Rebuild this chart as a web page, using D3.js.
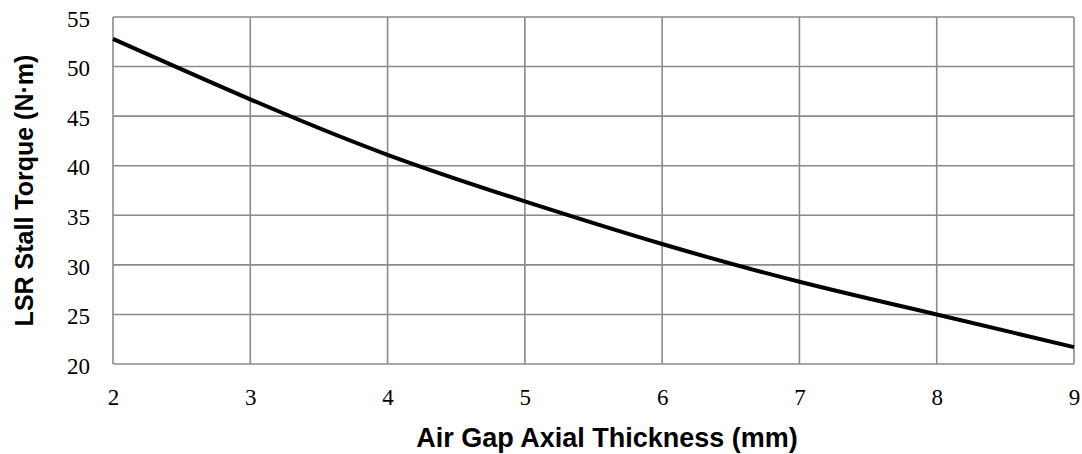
<!DOCTYPE html>
<html>
<head>
<meta charset="utf-8">
<script src="https://cdn.jsdelivr.net/npm/d3@7"></script>
<style>
  body { margin: 0; background: #fff; }
  .tick text { font-family: "Liberation Serif", "Times New Roman", serif; font-size: 23px; fill: #000; }
  .title { font-family: "Liberation Sans", Arial, sans-serif; font-weight: bold; fill: #000; }
</style>
</head>
<body>
<div id="chart"></div>
<script>
'use strict';

// air gap axial thickness (mm)
var gaps = [2, 3, 4, 5, 6, 7, 8, 9];
// stall torque (N·m)
var torque = [52.8, 46.7, 41.1, 36.4, 32.1, 28.3, 25.0, 21.7];
var xTicks = [2, 3, 4, 5, 6, 7, 8, 9];
var yTicks = [20, 25, 30, 35, 40, 45, 50, 55];

var width = 1082, height = 454;
var margin = { top: 17, right: 8, bottom: 90, left: 113 };

var svg = d3.select('#chart').append('svg')
  .attr('width', width)
  .attr('height', height);

var x = d3.scaleLinear().domain([2, 9])
  .range([margin.left, width - margin.right]);
var y = d3.scaleLinear().domain([20, 55])
  .range([height - margin.bottom, margin.top]);

// grid
var grid = svg.append('g').attr('class', 'grid')
  .style('stroke', '#8a8a8a')
  .style('stroke-width', 1.6);

grid.selectAll('line.v').data(xTicks).enter().append('line')
  .attr('x1', function (d) { return x(d); })
  .attr('x2', function (d) { return x(d); })
  .attr('y1', y(20)).attr('y2', y(55));

grid.selectAll('line.h').data(yTicks).enter().append('line')
  .attr('y1', function (d) { return y(d); })
  .attr('y2', function (d) { return y(d); })
  .attr('x1', x(2)).attr('x2', x(9));

// axes (labels only)
var xAxis = svg.append('g')
  .attr('transform', 'translate(0,' + y(20) + ')')
  .call(d3.axisBottom(x).tickValues(xTicks).tickFormat(d3.format('d')).tickSize(0));
xAxis.select('.domain').remove();
xAxis.selectAll('.tick text').attr('y', 41).attr('dy', null);

var yAxis = svg.append('g')
  .attr('transform', 'translate(' + x(2) + ',0)')
  .call(d3.axisLeft(y).tickValues(yTicks).tickFormat(d3.format('d')).tickSize(0).tickPadding(23));
yAxis.select('.domain').remove();
yAxis.selectAll('.tick text').attr('dy', '0.4em');

// curve
var line = d3.line()
  .x(function (d, i) { return x(gaps[i]); })
  .y(function (d) { return y(d); })
  .curve(d3.curveNatural);

svg.append('path')
  .datum(torque)
  .attr('d', line)
  .style('fill', 'none')
  .style('stroke', '#000')
  .style('stroke-width', 4);

// titles
svg.append('text').attr('class', 'title')
  .attr('x', 607)
  .attr('y', 447)
  .attr('text-anchor', 'middle')
  .style('font-size', '27px')
  .text('Air Gap Axial Thickness (mm)');

svg.append('text').attr('class', 'title')
  .attr('transform', 'translate(33,' + ((y(20) + y(55)) / 2) + ') rotate(-90)')
  .attr('text-anchor', 'middle')
  .style('font-size', '25px')
  .text('LSR Stall Torque (N·m)');
</script>
</body>
</html>
